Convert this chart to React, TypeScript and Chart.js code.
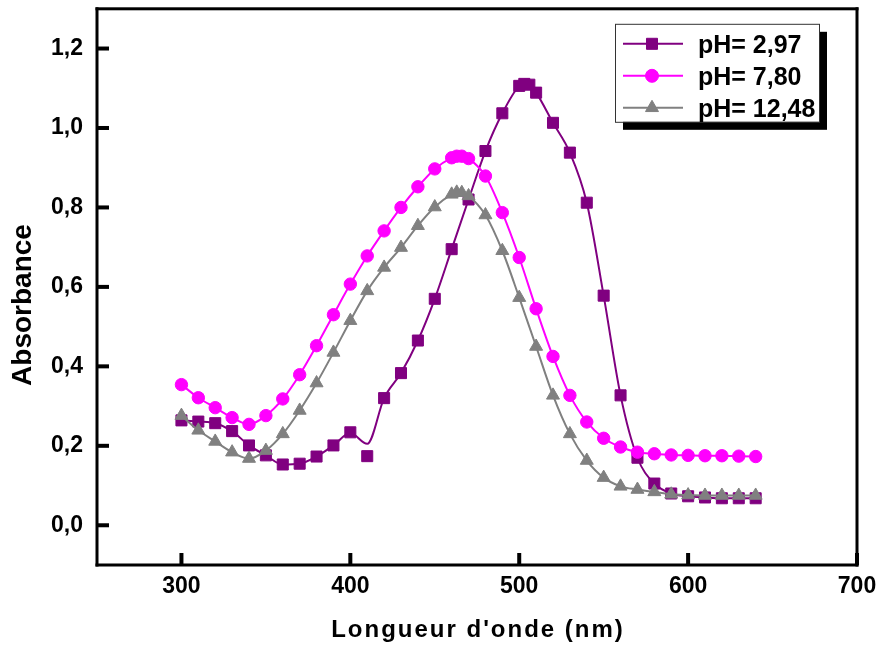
import React, { useEffect, useRef } from "react";
import { Chart, registerables } from "chart.js";

Chart.register(...registerables);

// ---- Data ----
const wlAcid = [300, 310, 320, 330, 340, 350, 360, 370, 380, 390, 400, 410, 420, 430, 440, 450, 460, 470, 480, 490, 500, 503, 506, 510, 520, 530, 540, 550, 560, 570, 580, 590, 600, 610, 620, 630, 640];
const absAcid = [0.264, 0.261, 0.257, 0.237, 0.201, 0.176, 0.153, 0.155, 0.173, 0.201, 0.234, 0.174, 0.320, 0.383, 0.465, 0.570, 0.695, 0.820, 0.942, 1.037, 1.106, 1.111, 1.109, 1.089, 1.013, 0.938, 0.812, 0.578, 0.327, 0.170, 0.105, 0.080, 0.073, 0.070, 0.068, 0.068, 0.068];
// smoothed curve drawn through the pH 2.97 points (deviates at 410 nm)
const curveAcid = [0.264, 0.261, 0.257, 0.237, 0.201, 0.176, 0.153, 0.155, 0.173, 0.201, 0.232, 0.205, 0.320, 0.383, 0.465, 0.570, 0.695, 0.820, 0.942, 1.037, 1.106, 1.111, 1.109, 1.089, 1.013, 0.938, 0.812, 0.578, 0.327, 0.170, 0.105, 0.080, 0.073, 0.070, 0.068, 0.068, 0.068];

const wlNeutral = [300, 310, 320, 330, 340, 350, 360, 370, 380, 390, 400, 410, 420, 430, 440, 450, 460, 463, 466, 470, 480, 490, 500, 510, 520, 530, 540, 550, 560, 570, 580, 590, 600, 610, 620, 630, 640];
const absNeutral = [0.354, 0.321, 0.296, 0.271, 0.254, 0.276, 0.318, 0.379, 0.452, 0.530, 0.607, 0.678, 0.741, 0.800, 0.852, 0.897, 0.925, 0.929, 0.929, 0.923, 0.879, 0.787, 0.674, 0.545, 0.425, 0.327, 0.260, 0.219, 0.197, 0.184, 0.180, 0.177, 0.176, 0.175, 0.175, 0.174, 0.173];

const wlBasic = [300, 310, 320, 330, 340, 350, 360, 370, 380, 390, 400, 410, 420, 430, 440, 450, 460, 463, 466, 470, 480, 490, 500, 510, 520, 530, 540, 550, 560, 570, 580, 590, 600, 610, 620, 630, 640];
const absBasic = [0.276, 0.239, 0.211, 0.184, 0.168, 0.188, 0.230, 0.289, 0.358, 0.435, 0.515, 0.590, 0.649, 0.699, 0.754, 0.801, 0.833, 0.838, 0.837, 0.829, 0.781, 0.691, 0.573, 0.450, 0.327, 0.230, 0.163, 0.120, 0.098, 0.090, 0.084, 0.078, 0.076, 0.075, 0.075, 0.075, 0.075];

const seriesLabels = ["pH= 2,97", "pH= 7,80", "pH= 12,48"];
const xTickValues = [300, 400, 500, 600, 700];
const yTickValues = [0, 0.2, 0.4, 0.6, 0.8, 1.0, 1.2];
const xTitle = "Longueur d'onde (nm)";
const yTitle = "Absorbance";

const PURPLE = "#800080";
const MAGENTA = "#ff00ff";
const GRAY = "#808080";
const FONT = "'Liberation Sans', Arial, sans-serif";

const pts = (xs: number[], ys: number[]) => xs.map((x, i) => ({ x, y: ys[i] }));

const legendItems = [
  { label: seriesLabels[0], color: PURPLE, style: "rect", r: 7.8 },
  { label: seriesLabels[1], color: MAGENTA, style: "circle", r: 6.5 },
  { label: seriesLabels[2], color: GRAY, style: "triangle", r: 7.5 },
];

function drawMarker(ctx: CanvasRenderingContext2D, style: string, x: number, y: number, r: number) {
  ctx.beginPath();
  if (style === "rect") {
    const s = Math.SQRT1_2 * r;
    ctx.rect(x - s, y - s, 2 * s, 2 * s);
  } else if (style === "circle") {
    ctx.arc(x, y, r, 0, Math.PI * 2);
  } else {
    let rad = 0;
    ctx.moveTo(x + Math.sin(rad) * r, y - Math.cos(rad) * r);
    rad += (2 * Math.PI) / 3;
    ctx.lineTo(x + Math.sin(rad) * r, y - Math.cos(rad) * r);
    rad += (2 * Math.PI) / 3;
    ctx.lineTo(x + Math.sin(rad) * r, y - Math.cos(rad) * r);
    ctx.closePath();
  }
  ctx.fill();
  ctx.stroke();
}

const decorPlugin = {
  id: "decor",
  afterDraw(chart: any) {
    const { ctx, chartArea } = chart;
    const { left, right, top, bottom } = chartArea;
    const xs = chart.scales.x;
    const ys = chart.scales.y;
    ctx.save();
    ctx.fillStyle = "#000";
    const t = 3;
    ctx.fillRect(left - 1.5, top - 1.5, right - left + t, t);
    ctx.fillRect(left - 1.5, bottom - 1.5, right - left + t, t);
    ctx.fillRect(left - 1.5, top - 1.5, t, bottom - top + t);
    ctx.fillRect(right - 1.5, top - 1.5, t, bottom - top + t);
    // inward ticks
    ctx.fillStyle = "#000";
    for (let i = 0; i < xTickValues.length; i++) {
      const px = xs.getPixelForValue(xTickValues[i]);
      ctx.fillRect(px - 2, bottom - 12, 4, 12);
    }
    for (let i = 0; i < yTickValues.length; i++) {
      const py = ys.getPixelForValue(yTickValues[i]);
      ctx.fillRect(left, py - 2, 12, 4);
    }

    // axis titles
    ctx.fillStyle = "#000";
    ctx.textAlign = "center";
    ctx.textBaseline = "middle";
    ctx.font = `bold 24px ${FONT}`;
    try { (ctx as any).letterSpacing = "2px"; } catch (e) {}
    ctx.fillText(xTitle, (left + right) / 2 + 1, 630);
    try { (ctx as any).letterSpacing = "0px"; } catch (e) {}
    ctx.save();
    ctx.translate(23, 305);
    ctx.rotate(-Math.PI / 2);
    ctx.font = `bold 28px ${FONT}`;
    ctx.fillText(yTitle, 0, 0);
    ctx.restore();

    // legend
    const bx = right - 242, by = top + 15, bw = 204, bh = 98;
    ctx.fillStyle = "#000";
    ctx.fillRect(bx + 8, by + 8, bw, bh);
    ctx.fillStyle = "#fff";
    ctx.fillRect(bx, by, bw, bh);
    ctx.lineWidth = 1;
    ctx.strokeStyle = "#333";
    ctx.strokeRect(bx + 0.5, by + 0.5, bw, bh);
    legendItems.forEach((it, i) => {
      const cy = by + 20 + i * 32;
      ctx.strokeStyle = it.color;
      ctx.lineWidth = 2;
      ctx.beginPath();
      ctx.moveTo(bx + 8, cy);
      ctx.lineTo(bx + 68, cy);
      ctx.stroke();
      ctx.fillStyle = it.color;
      ctx.strokeStyle = it.color;
      ctx.lineWidth = 1;
      drawMarker(ctx, it.style, bx + 37, cy, it.r);
      ctx.fillStyle = "#000";
      ctx.textAlign = "left";
      ctx.textBaseline = "alphabetic";
      ctx.font = `bold 25px ${FONT}`;
      ctx.fillText(it.label, bx + 83, cy + 9);
    });
    ctx.restore();
  },
};

export default function App() {
  const ref = useRef<HTMLCanvasElement | null>(null);
  useEffect(() => {
    if (!ref.current) return;
    const chart = new Chart(ref.current, {
      type: "scatter",
      data: {
        datasets: [
          {
            label: seriesLabels[2],
            data: pts(wlBasic, absBasic),
            showLine: true,
            borderColor: GRAY,
            backgroundColor: GRAY,
            borderWidth: 2,
            cubicInterpolationMode: "monotone",
            pointStyle: "triangle",
            pointRadius: 7.5,
            pointBorderWidth: 1,
            pointBorderColor: GRAY,
            pointBackgroundColor: GRAY,
            order: 0,
          },
          {
            label: seriesLabels[1],
            data: pts(wlNeutral, absNeutral),
            showLine: true,
            borderColor: MAGENTA,
            backgroundColor: MAGENTA,
            borderWidth: 2,
            cubicInterpolationMode: "monotone",
            pointStyle: "circle",
            pointRadius: 6.2,
            pointBorderWidth: 1,
            pointBorderColor: MAGENTA,
            pointBackgroundColor: MAGENTA,
            order: 1,
          },
          {
            label: seriesLabels[0],
            data: pts(wlAcid, absAcid),
            showLine: false,
            borderColor: PURPLE,
            backgroundColor: PURPLE,
            pointStyle: "rect",
            pointRadius: 7.8,
            pointBorderWidth: 1,
            pointBorderColor: PURPLE,
            pointBackgroundColor: PURPLE,
            order: 2,
          },
          {
            label: "curve",
            data: pts(wlAcid, curveAcid),
            showLine: true,
            borderColor: PURPLE,
            borderWidth: 2,
            cubicInterpolationMode: "monotone",
            pointRadius: 0,
            order: 3,
          },
        ],
      } as any,
      options: {
        animation: false,
        responsive: false,
        layout: { padding: { left: 0, top: 8, right: 22, bottom: 0 } },
        plugins: { legend: { display: false }, tooltip: { enabled: false } },
        scales: {
          x: {
            type: "linear",
            min: 250,
            max: 700,
            grid: { display: false, drawTicks: false },
            border: { display: false },
            afterFit: (s: any) => { s.height = 83; s.paddingLeft = 0; s.paddingRight = 0; },
            afterBuildTicks: (s: any) => { s.ticks = xTickValues.map((v) => ({ value: v })); },
            ticks: {
              padding: 8,
              color: "#000",
              font: { family: FONT, size: 23, weight: "bold" },
              callback: (v: any) => String(v),
            },
          },
          y: {
            type: "linear",
            min: -0.1,
            max: 1.3,
            grid: { display: false, drawTicks: false },
            border: { display: false },
            afterFit: (s: any) => { s.width = 97; s.paddingTop = 0; s.paddingBottom = 0; },
            afterBuildTicks: (s: any) => { s.ticks = yTickValues.map((v) => ({ value: v })); },
            ticks: {
              padding: 14,
              color: "#000",
              font: { family: FONT, size: 23, weight: "bold" },
              callback: (v: any) => Number(v).toFixed(1).replace(".", ","),
            },
          },
        },
      } as any,
      plugins: [decorPlugin],
    });
    return () => chart.destroy();
  }, []);
  return (
    <div style={{ position: "fixed", left: 0, top: 0, width: 879, height: 648, background: "#fff" }}>
      <canvas ref={ref} width={879} height={648} style={{ display: "block" }} />
    </div>
  );
}
